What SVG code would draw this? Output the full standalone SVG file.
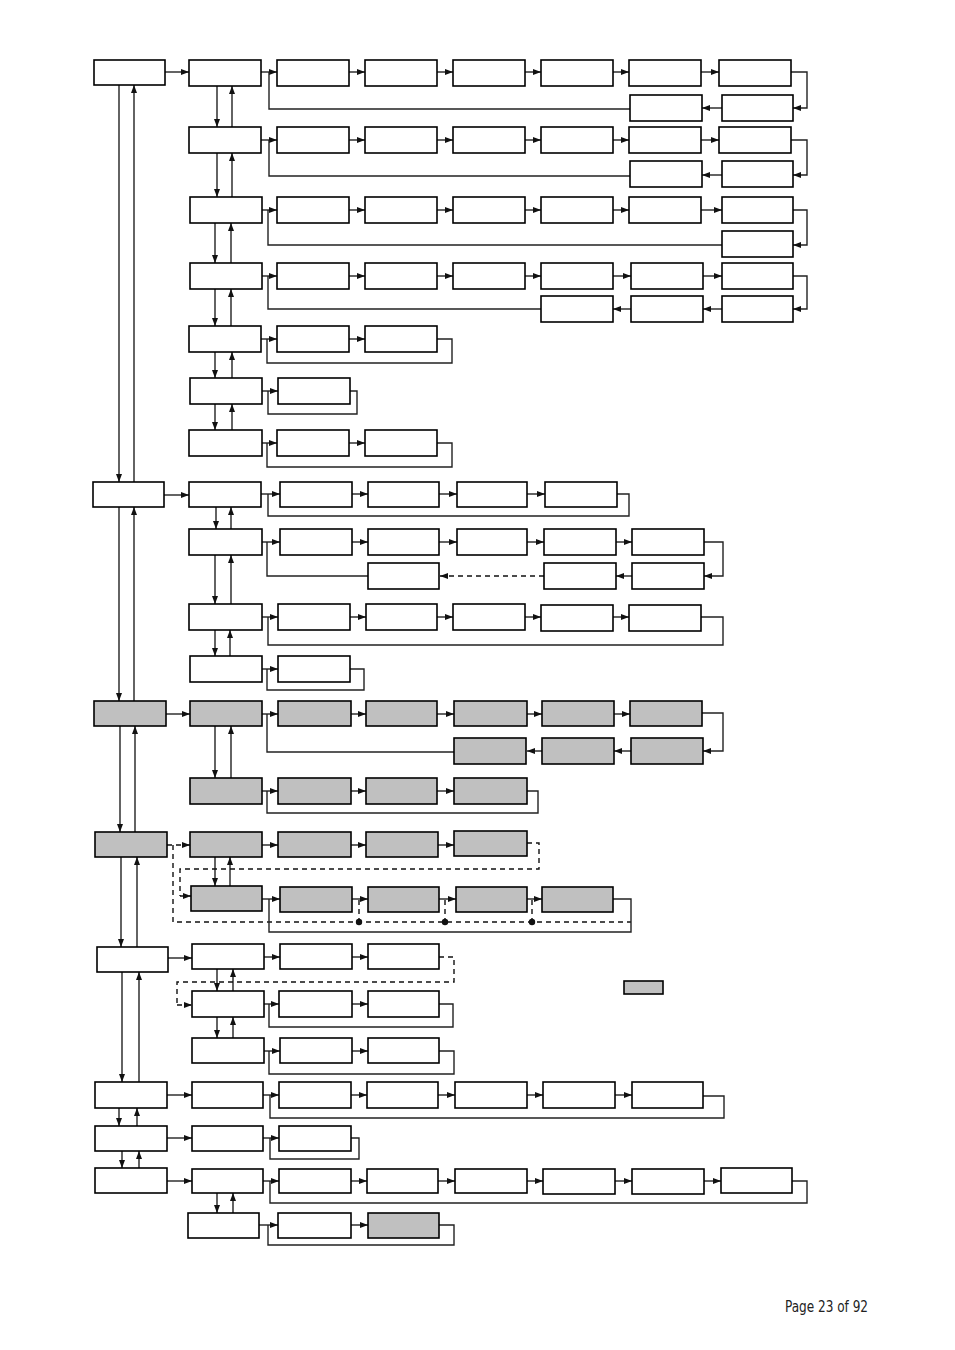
<svg xmlns="http://www.w3.org/2000/svg" width="955" height="1350" viewBox="0 0 955 1350">
<style>
.b{fill:#fff;stroke:#000;stroke-width:1.6}
.g{fill:#c0c0c0;stroke:#000;stroke-width:1.6}
.c{fill:none;stroke:#222;stroke-width:1.4}
.a{fill:none;stroke:#222;stroke-width:1.4;marker-end:url(#ah)}
.d{fill:none;stroke:#111;stroke-width:1.4;stroke-dasharray:5,4}
.da{fill:none;stroke:#111;stroke-width:1.4;stroke-dasharray:5,4;marker-end:url(#ah)}
.t{font-family:"Liberation Sans Narrow","DejaVu Sans Condensed","Liberation Sans",sans-serif;font-size:16px;fill:#222}
</style>
<defs>
<marker id="ah" viewBox="0 0 8 6" refX="8" refY="3" markerWidth="8" markerHeight="6" markerUnits="userSpaceOnUse" orient="auto"><path d="M0,0L8,3L0,6z" fill="#111"/></marker>
</defs>
<rect width="955" height="1350" fill="#fff"/>

<g id="connectors">
<!-- main column -->
<path class="a" d="M119,85V482"/><path class="a" d="M134,482V85"/>
<path class="a" d="M119,507V701"/><path class="a" d="M134,701V507"/>
<path class="a" d="M120,726V832"/><path class="a" d="M135,832V726"/>
<path class="a" d="M121,857V947"/><path class="a" d="M137,947V857"/>
<path class="a" d="M122,972V1082"/><path class="a" d="M139,1082V972"/>
<path class="a" d="M119,1108V1126"/><path class="a" d="M137,1126V1108"/>
<path class="a" d="M122,1151V1168"/><path class="a" d="M139,1168V1151"/>
<!-- section A verticals -->
<path class="a" d="M217,86V127"/><path class="a" d="M232,127V86"/>
<path class="a" d="M217,153V197"/><path class="a" d="M232,197V153"/>
<path class="a" d="M215,223V263"/><path class="a" d="M231,263V223"/>
<path class="a" d="M215,289V326"/><path class="a" d="M231,326V289"/>
<path class="a" d="M215,352V378"/><path class="a" d="M232,378V352"/>
<path class="a" d="M215,404V430"/><path class="a" d="M232,430V404"/>
<!-- row A1 -->
<path class="a" d="M165,72H189"/>
<path class="a" d="M261,72H277"/><path class="a" d="M349,72H365"/><path class="a" d="M437,72H453"/><path class="a" d="M525,72H541"/><path class="a" d="M613,72H629"/><path class="a" d="M701,72H719"/>
<path class="a" d="M791,72H807V108H793"/><path class="a" d="M722,108H702"/>
<path class="c" d="M630,109H269V72"/>
<!-- row A2 -->
<path class="a" d="M261,140H277"/><path class="a" d="M349,140H365"/><path class="a" d="M437,140H453"/><path class="a" d="M525,140H541"/><path class="a" d="M613,140H629"/><path class="a" d="M701,140H719"/>
<path class="a" d="M791,140H807V175H793"/><path class="a" d="M722,175H702"/>
<path class="c" d="M630,176H269V140"/>
<!-- row A3 -->
<path class="a" d="M262,210H277"/><path class="a" d="M349,210H365"/><path class="a" d="M437,210H453"/><path class="a" d="M525,210H541"/><path class="a" d="M613,210H629"/><path class="a" d="M701,210H722"/>
<path class="a" d="M793,210H807V245H793"/>
<path class="c" d="M722,245H268V210"/>
<!-- row A4 -->
<path class="a" d="M262,276H277"/><path class="a" d="M349,276H365"/><path class="a" d="M437,276H453"/><path class="a" d="M525,276H541"/><path class="a" d="M613,276H631"/><path class="a" d="M703,276H722"/>
<path class="a" d="M793,276H807V309H793"/><path class="a" d="M722,309H703"/><path class="a" d="M631,309H613"/>
<path class="c" d="M541,309H268V276"/>
<!-- row A5 -->
<path class="a" d="M261,339H277"/><path class="a" d="M349,339H365"/>
<path class="c" d="M437,339H452V363H267V339"/>
<!-- row A6 -->
<path class="a" d="M262,391H278"/>
<path class="c" d="M350,391H357V414H268V391"/>
<!-- row A7 -->
<path class="a" d="M262,443H277"/><path class="a" d="M349,443H365"/>
<path class="c" d="M437,443H452V467H267V443"/>

<!-- section C -->
<path class="a" d="M164,495H189"/>
<path class="a" d="M216,507V529"/><path class="a" d="M231,529V507"/>
<path class="a" d="M215,555V604"/><path class="a" d="M231,604V555"/>
<path class="a" d="M215,630V656"/><path class="a" d="M230,656V630"/>
<path class="a" d="M261,494H280"/><path class="a" d="M352,494H368"/><path class="a" d="M439,494H457"/><path class="a" d="M527,494H545"/>
<path class="c" d="M617,494H629V516H268V494"/>
<path class="a" d="M262,542H280"/><path class="a" d="M352,542H368"/><path class="a" d="M439,542H457"/><path class="a" d="M527,542H544"/><path class="a" d="M616,542H632"/>
<path class="a" d="M704,542H723V576H704"/><path class="a" d="M632,576H616"/>
<path class="da" d="M544,576H440"/>
<path class="c" d="M368,576H267V542"/>
<path class="a" d="M262,617H278"/><path class="a" d="M350,617H366"/><path class="a" d="M437,617H453"/><path class="a" d="M525,617H541"/><path class="a" d="M613,617H629"/>
<path class="c" d="M701,617H723V645H268V617"/>
<path class="a" d="M262,669H278"/>
<path class="c" d="M350,669H364V690H267V669"/>

<!-- section D -->
<path class="a" d="M166,714H190"/>
<path class="a" d="M215,726V778"/><path class="a" d="M231,778V726"/>
<path class="a" d="M262,714H278"/><path class="a" d="M351,714H366"/><path class="a" d="M437,714H454"/><path class="a" d="M527,714H542"/><path class="a" d="M614,714H630"/>
<path class="a" d="M702,713H723V751H703"/><path class="a" d="M631,751H614"/><path class="a" d="M542,751H527"/>
<path class="c" d="M454,752H267V714"/>
<path class="a" d="M262,791H278"/><path class="a" d="M351,791H366"/><path class="a" d="M437,791H454"/>
<path class="c" d="M527,791H538V813H267V791"/>

<!-- section E -->
<path class="da" d="M167,845H190"/>
<path class="d" d="M173,845V922H631"/>
<path class="a" d="M215,857V886"/><path class="a" d="M230,886V857"/>
<path class="a" d="M262,845H278"/><path class="a" d="M351,845H366"/><path class="a" d="M438,845H454"/>
<path class="d" d="M527,843H539V869H180V896"/><path class="da" d="M180,896H191"/>
<path class="a" d="M262,899H280"/><path class="a" d="M352,899H368"/><path class="a" d="M439,899H456"/><path class="a" d="M527,899H542"/>
<path class="c" d="M613,899H631V932H269V899"/>
<path class="d" d="M359,900V922"/><path class="d" d="M445,900V922"/><path class="d" d="M532,900V922"/>
<circle cx="359" cy="922" r="3.2" fill="#111"/><circle cx="445" cy="922" r="3.2" fill="#111"/><circle cx="532" cy="922" r="3.2" fill="#111"/>

<!-- section F -->
<path class="a" d="M168,958H192"/>
<path class="a" d="M217,969V991"/><path class="a" d="M233,991V969"/>
<path class="a" d="M217,1017V1038"/><path class="a" d="M233,1038V1017"/>
<path class="a" d="M264,957H280"/><path class="a" d="M352,957H368"/>
<path class="d" d="M439,957H454V982H177V1005"/><path class="da" d="M177,1005H192"/>
<path class="a" d="M264,1004H279"/><path class="a" d="M352,1004H368"/>
<path class="c" d="M439,1004H453V1027H269V1004"/>
<path class="a" d="M264,1051H280"/><path class="a" d="M352,1051H368"/>
<path class="c" d="M439,1051H454V1074H269V1051"/>

<!-- section G / H -->
<path class="a" d="M167,1095H192"/>
<path class="a" d="M263,1095H279"/><path class="a" d="M351,1095H367"/><path class="a" d="M438,1095H455"/><path class="a" d="M527,1095H543"/><path class="a" d="M615,1095H632"/>
<path class="c" d="M703,1096H724V1118H270V1095"/>
<path class="a" d="M167,1138H192"/>
<path class="a" d="M263,1138H279"/>
<path class="c" d="M351,1138H359V1159H270V1138"/>
<path class="a" d="M167,1181H192"/>
<path class="a" d="M263,1181H279"/><path class="a" d="M351,1181H367"/><path class="a" d="M438,1181H455"/><path class="a" d="M527,1181H543"/><path class="a" d="M615,1181H632"/><path class="a" d="M704,1181H721"/>
<path class="c" d="M792,1181H807V1203H270V1181"/>
<path class="a" d="M217,1193V1213"/><path class="a" d="M233,1213V1193"/>
<path class="a" d="M259,1225H278"/><path class="a" d="M351,1225H368"/>
<path class="c" d="M439,1225H454V1245H268V1225"/>
</g>

<!-- main column nodes -->
<g id="m1"><rect class="b" x="94" y="60" width="71" height="25"/></g>
<g id="m2"><rect class="b" x="93" y="482" width="71" height="25"/></g>
<g id="m3"><rect class="g" x="94" y="701" width="72" height="25"/></g>
<g id="m4"><rect class="g" x="95" y="832" width="72" height="25"/></g>
<g id="m5"><rect class="b" x="97" y="947" width="71" height="25"/></g>
<g id="m6"><rect class="b" x="95" y="1082" width="72" height="26"/></g>
<g id="m7"><rect class="b" x="95" y="1126" width="72" height="25"/></g>
<g id="m8"><rect class="b" x="95" y="1168" width="72" height="25"/></g>

<!-- section A -->
<g id="a1"><rect class="b" x="189" y="60" width="72" height="26"/></g>
<g id="a1-1"><rect class="b" x="277" y="60" width="72" height="26"/></g>
<g id="a1-2"><rect class="b" x="365" y="60" width="72" height="26"/></g>
<g id="a1-3"><rect class="b" x="453" y="60" width="72" height="26"/></g>
<g id="a1-4"><rect class="b" x="541" y="60" width="72" height="26"/></g>
<g id="a1-5"><rect class="b" x="629" y="60" width="72" height="26"/></g>
<g id="a1-6"><rect class="b" x="719" y="60" width="72" height="26"/></g>
<g id="a1-7"><rect class="b" x="722" y="95" width="71" height="26"/></g>
<g id="a1-8"><rect class="b" x="630" y="95" width="72" height="26"/></g>

<g id="a2"><rect class="b" x="189" y="127" width="72" height="26"/></g>
<g id="a2-1"><rect class="b" x="277" y="127" width="72" height="26"/></g>
<g id="a2-2"><rect class="b" x="365" y="127" width="72" height="26"/></g>
<g id="a2-3"><rect class="b" x="453" y="127" width="72" height="26"/></g>
<g id="a2-4"><rect class="b" x="541" y="127" width="72" height="26"/></g>
<g id="a2-5"><rect class="b" x="629" y="127" width="72" height="26"/></g>
<g id="a2-6"><rect class="b" x="719" y="127" width="72" height="26"/></g>
<g id="a2-7"><rect class="b" x="722" y="161" width="71" height="26"/></g>
<g id="a2-8"><rect class="b" x="630" y="161" width="72" height="26"/></g>

<g id="a3"><rect class="b" x="190" y="197" width="72" height="26"/></g>
<g id="a3-1"><rect class="b" x="277" y="197" width="72" height="26"/></g>
<g id="a3-2"><rect class="b" x="365" y="197" width="72" height="26"/></g>
<g id="a3-3"><rect class="b" x="453" y="197" width="72" height="26"/></g>
<g id="a3-4"><rect class="b" x="541" y="197" width="72" height="26"/></g>
<g id="a3-5"><rect class="b" x="629" y="197" width="72" height="26"/></g>
<g id="a3-6"><rect class="b" x="722" y="197" width="71" height="26"/></g>
<g id="a3-7"><rect class="b" x="722" y="231" width="71" height="26"/></g>

<g id="a4"><rect class="b" x="190" y="263" width="72" height="26"/></g>
<g id="a4-1"><rect class="b" x="277" y="263" width="72" height="26"/></g>
<g id="a4-2"><rect class="b" x="365" y="263" width="72" height="26"/></g>
<g id="a4-3"><rect class="b" x="453" y="263" width="72" height="26"/></g>
<g id="a4-4"><rect class="b" x="541" y="263" width="72" height="26"/></g>
<g id="a4-5"><rect class="b" x="631" y="263" width="72" height="26"/></g>
<g id="a4-6"><rect class="b" x="722" y="263" width="71" height="26"/></g>
<g id="a4-7"><rect class="b" x="722" y="296" width="71" height="26"/></g>
<g id="a4-8"><rect class="b" x="631" y="296" width="72" height="26"/></g>
<g id="a4-9"><rect class="b" x="541" y="296" width="72" height="26"/></g>

<g id="a5"><rect class="b" x="189" y="326" width="72" height="26"/></g>
<g id="a5-1"><rect class="b" x="277" y="326" width="72" height="26"/></g>
<g id="a5-2"><rect class="b" x="365" y="326" width="72" height="26"/></g>

<g id="a6"><rect class="b" x="190" y="378" width="72" height="26"/></g>
<g id="a6-1"><rect class="b" x="278" y="378" width="72" height="26"/></g>

<g id="a7"><rect class="b" x="189" y="430" width="73" height="26"/></g>
<g id="a7-1"><rect class="b" x="277" y="430" width="72" height="26"/></g>
<g id="a7-2"><rect class="b" x="365" y="430" width="72" height="26"/></g>

<!-- section C -->
<g id="c1"><rect class="b" x="189" y="482" width="72" height="25"/></g>
<g id="c1-1"><rect class="b" x="280" y="482" width="72" height="25"/></g>
<g id="c1-2"><rect class="b" x="368" y="482" width="71" height="25"/></g>
<g id="c1-3"><rect class="b" x="457" y="482" width="70" height="25"/></g>
<g id="c1-4"><rect class="b" x="545" y="482" width="72" height="25"/></g>

<g id="c2"><rect class="b" x="189" y="529" width="73" height="26"/></g>
<g id="c2-1"><rect class="b" x="280" y="529" width="72" height="26"/></g>
<g id="c2-2"><rect class="b" x="368" y="529" width="71" height="26"/></g>
<g id="c2-3"><rect class="b" x="457" y="529" width="70" height="26"/></g>
<g id="c2-4"><rect class="b" x="544" y="529" width="72" height="26"/></g>
<g id="c2-5"><rect class="b" x="632" y="529" width="72" height="26"/></g>
<g id="c2-6"><rect class="b" x="632" y="563" width="72" height="26"/></g>
<g id="c2-7"><rect class="b" x="544" y="563" width="72" height="26"/></g>
<g id="c2-8"><rect class="b" x="368" y="563" width="71" height="26"/></g>

<g id="c3"><rect class="b" x="189" y="604" width="73" height="26"/></g>
<g id="c3-1"><rect class="b" x="278" y="604" width="72" height="26"/></g>
<g id="c3-2"><rect class="b" x="366" y="604" width="71" height="26"/></g>
<g id="c3-3"><rect class="b" x="453" y="604" width="72" height="26"/></g>
<g id="c3-4"><rect class="b" x="541" y="605" width="72" height="26"/></g>
<g id="c3-5"><rect class="b" x="629" y="605" width="72" height="26"/></g>

<g id="c4"><rect class="b" x="190" y="656" width="72" height="26"/></g>
<g id="c4-1"><rect class="b" x="278" y="656" width="72" height="26"/></g>

<!-- section D (grey) -->
<g id="d1"><rect class="g" x="190" y="701" width="72" height="25"/></g>
<g id="d1-1"><rect class="g" x="278" y="701" width="73" height="25"/></g>
<g id="d1-2"><rect class="g" x="366" y="701" width="71" height="25"/></g>
<g id="d1-3"><rect class="g" x="454" y="701" width="73" height="25"/></g>
<g id="d1-4"><rect class="g" x="542" y="701" width="72" height="25"/></g>
<g id="d1-5"><rect class="g" x="630" y="701" width="72" height="25"/></g>
<g id="d1-6"><rect class="g" x="631" y="738" width="72" height="26"/></g>
<g id="d1-7"><rect class="g" x="542" y="738" width="72" height="26"/></g>
<g id="d1-8"><rect class="g" x="454" y="738" width="72" height="26"/></g>

<g id="d2"><rect class="g" x="190" y="778" width="72" height="26"/></g>
<g id="d2-1"><rect class="g" x="278" y="778" width="73" height="26"/></g>
<g id="d2-2"><rect class="g" x="366" y="778" width="71" height="26"/></g>
<g id="d2-3"><rect class="g" x="454" y="778" width="73" height="26"/></g>

<!-- section E (grey) -->
<g id="e1"><rect class="g" x="190" y="832" width="72" height="25"/></g>
<g id="e1-1"><rect class="g" x="278" y="832" width="73" height="25"/></g>
<g id="e1-2"><rect class="g" x="366" y="832" width="72" height="25"/></g>
<g id="e1-3"><rect class="g" x="454" y="831" width="73" height="25"/></g>

<g id="e2"><rect class="g" x="191" y="886" width="71" height="25"/></g>
<g id="e2-1"><rect class="g" x="280" y="887" width="72" height="25"/></g>
<g id="e2-2"><rect class="g" x="368" y="887" width="71" height="25"/></g>
<g id="e2-3"><rect class="g" x="456" y="887" width="71" height="25"/></g>
<g id="e2-4"><rect class="g" x="542" y="887" width="71" height="25"/></g>

<!-- section F -->
<g id="f1"><rect class="b" x="192" y="944" width="72" height="25"/></g>
<g id="f1-1"><rect class="b" x="280" y="944" width="72" height="25"/></g>
<g id="f1-2"><rect class="b" x="368" y="944" width="71" height="25"/></g>
<g id="f2"><rect class="b" x="192" y="991" width="72" height="26"/></g>
<g id="f2-1"><rect class="b" x="279" y="991" width="73" height="26"/></g>
<g id="f2-2"><rect class="b" x="368" y="991" width="71" height="26"/></g>
<g id="f3"><rect class="b" x="192" y="1038" width="72" height="25"/></g>
<g id="f3-1"><rect class="b" x="280" y="1038" width="72" height="25"/></g>
<g id="f3-2"><rect class="b" x="368" y="1038" width="71" height="25"/></g>

<g id="legend"><rect class="g" x="624" y="981" width="39" height="13"/></g>

<!-- section G -->
<g id="g1"><rect class="b" x="192" y="1082" width="71" height="26"/></g>
<g id="g1-1"><rect class="b" x="279" y="1082" width="72" height="26"/></g>
<g id="g1-2"><rect class="b" x="367" y="1082" width="71" height="26"/></g>
<g id="g1-3"><rect class="b" x="455" y="1082" width="72" height="26"/></g>
<g id="g1-4"><rect class="b" x="543" y="1082" width="72" height="26"/></g>
<g id="g1-5"><rect class="b" x="632" y="1082" width="71" height="26"/></g>
<g id="g2"><rect class="b" x="192" y="1126" width="71" height="25"/></g>
<g id="g2-1"><rect class="b" x="279" y="1126" width="72" height="25"/></g>

<!-- section H -->
<g id="h1"><rect class="b" x="192" y="1169" width="71" height="24"/></g>
<g id="h1-1"><rect class="b" x="279" y="1169" width="72" height="24"/></g>
<g id="h1-2"><rect class="b" x="367" y="1169" width="71" height="24"/></g>
<g id="h1-3"><rect class="b" x="455" y="1169" width="72" height="24"/></g>
<g id="h1-4"><rect class="b" x="543" y="1169" width="72" height="25"/></g>
<g id="h1-5"><rect class="b" x="632" y="1169" width="72" height="25"/></g>
<g id="h1-6"><rect class="b" x="721" y="1168" width="71" height="25"/></g>
<g id="h2"><rect class="b" x="188" y="1213" width="71" height="25"/></g>
<g id="h2-1"><rect class="b" x="278" y="1213" width="73" height="25"/></g>
<g id="h2-2"><rect class="g" x="368" y="1213" width="71" height="25"/></g>

<text class="t" x="868" y="1312" text-anchor="end" textLength="83" lengthAdjust="spacingAndGlyphs">Page 23 of 92</text>
</svg>
